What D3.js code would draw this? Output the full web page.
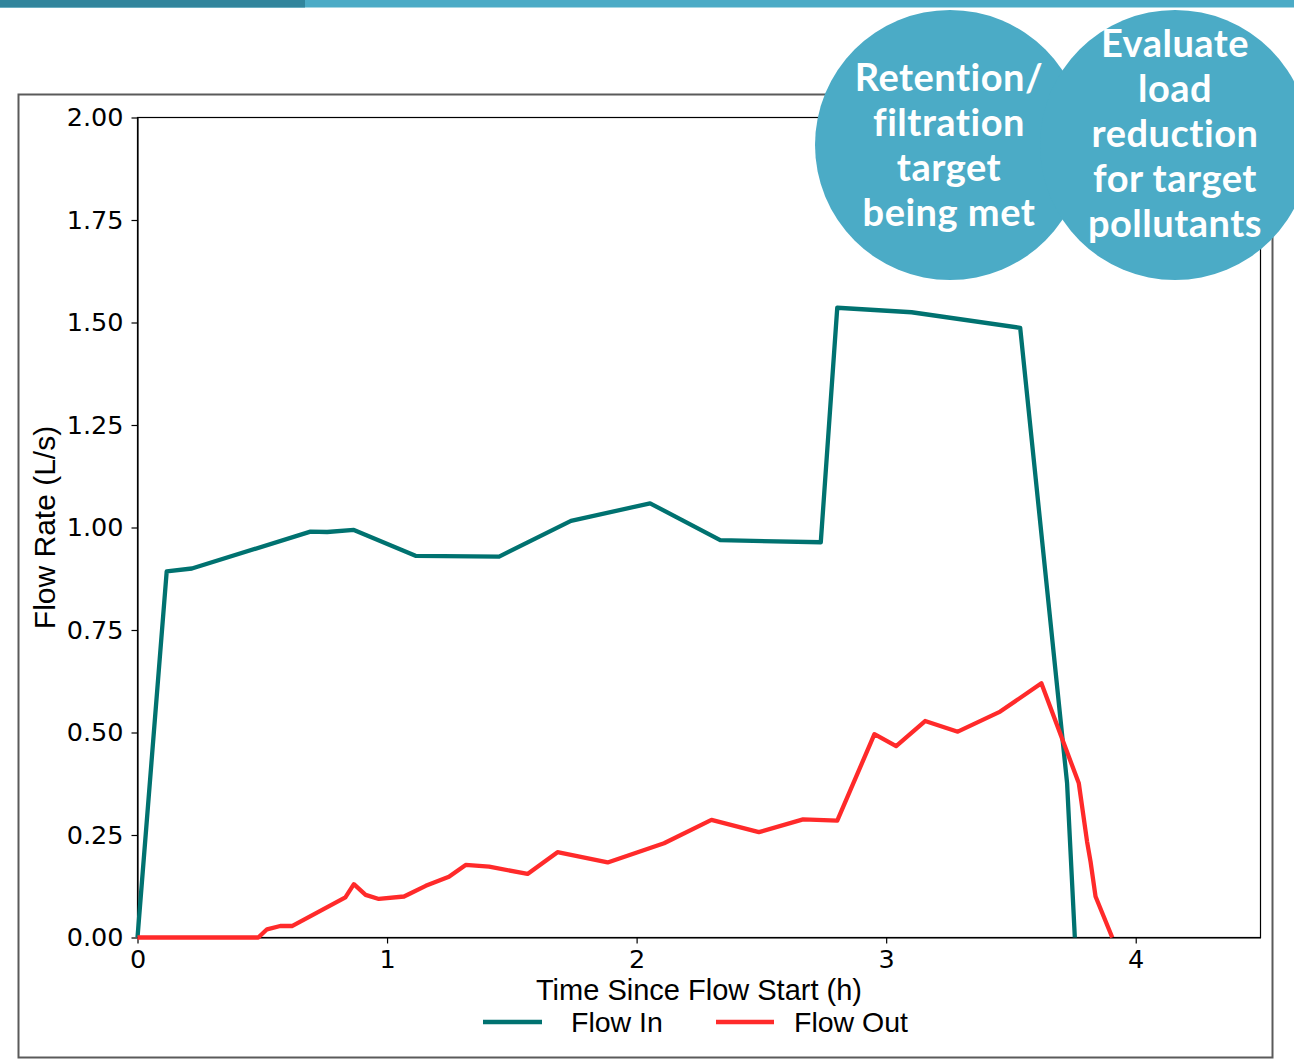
<!DOCTYPE html>
<html>
<head>
<meta charset="utf-8">
<script src="https://cdn.jsdelivr.net/npm/d3@7"></script>
<style>
  html, body { margin: 0; padding: 0; background: #ffffff; }
  svg { display: block; }
</style>
</head>
<body>
<svg id="chart" width="1294" height="1060"></svg>
<script>
// ---- Data ----
const flowInTime = [0, 0.117, 0.218, 0.693, 0.76, 0.867, 1.114, 1.449, 1.737, 2.054, 2.335, 2.738, 2.804, 3.102, 3.537, 3.725, 3.756];
const flowInRate = [0, 0.893, 0.900, 0.990, 0.989, 0.994, 0.931, 0.929, 1.016, 1.059, 0.969, 0.964, 1.536, 1.525, 1.487, 0.376, 0];

const flowOutTime = [0, 0.484, 0.519, 0.572, 0.619, 0.833, 0.867, 0.914, 0.967, 1.068, 1.155, 1.248, 1.315, 1.409, 1.563, 1.683, 1.884, 2.11, 2.30, 2.49, 2.667, 2.804, 2.953, 3.04, 3.156, 3.287, 3.457, 3.622, 3.772, 3.805, 3.819, 3.839, 3.906];
const flowOutRate = [0, 0, 0.020, 0.028, 0.028, 0.098, 0.130, 0.104, 0.094, 0.100, 0.126, 0.148, 0.177, 0.173, 0.155, 0.208, 0.183, 0.230, 0.287, 0.257, 0.288, 0.285, 0.496, 0.467, 0.528, 0.502, 0.551, 0.620, 0.376, 0.234, 0.185, 0.100, 0];

const xTicks = [0, 1, 2, 3, 4];
const yTicks = [0, 0.25, 0.5, 0.75, 1.0, 1.25, 1.5, 1.75, 2.0];
const seriesNames = ["Flow In", "Flow Out"];
const xLabel = "Time Since Flow Start (h)";
const yLabel = "Flow Rate (L/s)";
const circleLeftLines = ["Retention/", "filtration", "target", "being met"];
const circleRightLines = ["Evaluate", "load", "reduction", "for target", "pollutants"];

// ---- Chart ----
const svg = d3.select("#chart");
const colors = { in: "#007270", out: "#ff2a2a" };

// outer frame
svg.append("rect").attr("x", 18.5).attr("y", 94.5).attr("width", 1254).attr("height", 963)
  .attr("fill", "none").attr("stroke", "#5a5a5a").attr("stroke-width", 2);

const x = d3.scaleLinear().domain([0, 4.5]).range([137.5, 1260.5]);
const y = d3.scaleLinear().domain([0, 2]).range([937.5, 117.5]);

// spines
svg.append("rect").attr("x", x(0)).attr("y", y(2)).attr("width", x(4.5) - x(0)).attr("height", y(0) - y(2))
  .attr("fill", "none").attr("stroke", "#000").attr("stroke-width", 1.2);

const xAxis = svg.append("g").attr("transform", `translate(0,${y(0)})`)
  .call(d3.axisBottom(x).tickValues(xTicks).tickFormat(d3.format("d")).tickSize(6).tickPadding(6).tickSizeOuter(0));
const yAxis = svg.append("g").attr("transform", `translate(${x(0)},0)`)
  .call(d3.axisLeft(y).tickValues(yTicks).tickFormat(d3.format(".2f")).tickSize(6).tickPadding(8).tickSizeOuter(0));
[xAxis, yAxis].forEach(g => {
  g.select(".domain").attr("stroke", "#000").attr("stroke-width", 1.2);
  g.selectAll(".tick line").attr("stroke", "#000").attr("stroke-width", 1.2);
  g.selectAll(".tick text").attr("fill", "#000").style("font-family", "DejaVu Sans").style("font-size", "25.5px");
});

// lines
const line = d3.line().x(d => x(d[0])).y(d => y(d[1]));
const inData = flowInTime.map((t, i) => [t, flowInRate[i]]);
const outData = flowOutTime.map((t, i) => [t, flowOutRate[i]]);
svg.append("path").datum(inData).attr("d", line).attr("fill", "none")
  .attr("stroke", colors.in).attr("stroke-width", 4.3).attr("stroke-linejoin", "round");
svg.append("path").datum(outData).attr("d", line).attr("fill", "none")
  .attr("stroke", colors.out).attr("stroke-width", 4.3).attr("stroke-linejoin", "round");

// axis labels
svg.append("text").attr("x", (x(0) + x(4.5)) / 2).attr("y", 1000).attr("text-anchor", "middle")
  .style("font-family", "Liberation Sans, Arial, sans-serif").style("font-size", "29px").attr("fill", "#000")
  .text(xLabel);
svg.append("text").attr("transform", `translate(55,${(y(0) + y(2)) / 2}) rotate(-90)`).attr("text-anchor", "middle")
  .style("font-family", "Liberation Sans, Arial, sans-serif").style("font-size", "30px").attr("fill", "#000")
  .text(yLabel);

// legend
const legendItems = [
  { name: seriesNames[0], color: colors.in, x1: 483, x2: 542, tx: 571 },
  { name: seriesNames[1], color: colors.out, x1: 716, x2: 774, tx: 794 }
];
legendItems.forEach(it => {
  svg.append("line").attr("x1", it.x1).attr("x2", it.x2).attr("y1", 1022).attr("y2", 1022)
    .attr("stroke", it.color).attr("stroke-width", 4.5);
  svg.append("text").attr("x", it.tx).attr("y", 1031.5)
    .style("font-family", "Liberation Sans, Arial, sans-serif").style("font-size", "28.5px").attr("fill", "#000")
    .text(it.name);
});

// circles overlay
const circColor = "#4babc6";
[950, 1175].forEach(cx => {
  svg.append("circle").attr("cx", cx).attr("cy", 145).attr("r", 135).attr("fill", circColor);
});
[{ cx: 949, lines: circleLeftLines, y0: 91 }, { cx: 1175, lines: circleRightLines, y0: 57 }].forEach(c => {
  c.lines.forEach((t, i) => {
    svg.append("text").attr("x", c.cx).attr("y", c.y0 + i * 45).attr("text-anchor", "middle")
      .style("font-family", "Lato, sans-serif").style("font-weight", "700").style("font-size", "38px")
      .style("letter-spacing", "0.5px")
      .attr("fill", "#ffffff").text(t);
  });
});

// top bar
svg.append("rect").attr("x", 0).attr("y", 0).attr("width", 1294).attr("height", 7.5).attr("fill", "#4babc6");
svg.append("rect").attr("x", 0).attr("y", 0).attr("width", 305).attr("height", 7.5).attr("fill", "#31859c");
</script>
</body>
</html>
